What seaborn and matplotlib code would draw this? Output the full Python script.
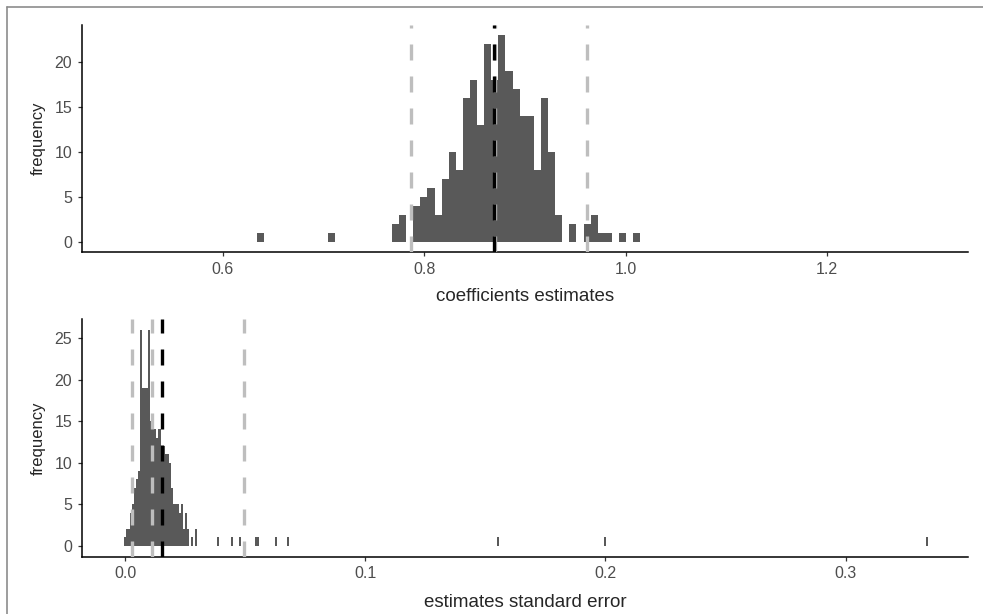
import numpy as np
import pandas as pd
import matplotlib
matplotlib.use("Agg")
import matplotlib.pyplot as plt
import seaborn as sns
from matplotlib.lines import Line2D

# coefficient estimates histogram (bin start, width, counts per bin)
coef_bin_start = 0.6339
coef_binwidth = 0.00705
coef_counts = [1, 0, 0, 0, 0, 0, 0, 0, 0, 0,
               1, 0, 0, 0, 0, 0, 0, 0, 0,
               2, 3, 0, 4, 5, 6, 3, 7, 10, 8, 16, 18, 13, 22, 18, 23, 19, 17,
               14, 14, 8, 16, 10, 3, 0, 2, 0, 2, 3, 1, 1, 0, 1, 0, 1]
coef_gray_lines = [0.787, 0.8705, 0.962]
coef_black_line = 0.8688

# standard error histogram: dense part + isolated values
se_bin_start = -0.0004
se_binwidth = 0.00084
se_dense_counts = [1, 2, 2, 4, 5, 7, 8, 9, 26, 19, 19, 19, 26, 15, 15, 14, 13,
                   14, 12, 12, 11, 11, 10, 7, 5, 5, 5, 4, 5, 2, 4, 2, 0, 1, 0, 2]
se_outliers = [0.0390, 0.0449, 0.0477, 0.0547, 0.0556, 0.0630, 0.0680,
               0.1555, 0.1998, 0.3342]
se_gray_lines = [0.0027, 0.0112, 0.0495]
se_black_line = 0.0154

coef_ticks = [0.6, 0.8, 1.0, 1.2]
coef_ticklabels = ["0.6", "0.8", "1.0", "1.2"]
se_ticks = [0.0, 0.1, 0.2, 0.3]
se_ticklabels = ["0.0", "0.1", "0.2", "0.3"]

sns.set_style("ticks")
plt.rcParams["font.family"] = ["Liberation Sans", "DejaVu Sans"]

BAR = "#595959"
GRAY = "#BEBEBE"

fig = plt.figure(figsize=(9.83, 6.14), dpi=100)
ax1 = fig.add_axes([0.0834, 0.5896, 0.9013, 0.3697])
ax2 = fig.add_axes([0.0834, 0.0936, 0.9013, 0.3869])

# top panel
n = len(coef_counts)
coef_df = pd.DataFrame({
    "x": coef_bin_start + coef_binwidth * (np.arange(n) + 0.5),
    "w": coef_counts,
})
sns.histplot(data=coef_df, x="x", weights="w", binwidth=coef_binwidth,
             binrange=(coef_bin_start, coef_bin_start + n * coef_binwidth),
             color=BAR, alpha=1, linewidth=0, edgecolor="none", ax=ax1)

# bottom panel
m = len(se_dense_counts)
se_x = list(se_bin_start + se_binwidth * (np.arange(m) + 0.5)) + se_outliers
se_w = list(se_dense_counts) + [1] * len(se_outliers)
se_df = pd.DataFrame({"x": se_x, "w": se_w})
sns.histplot(data=se_df, x="x", weights="w", binwidth=se_binwidth,
             binrange=(se_bin_start, 0.3352),
             color=BAR, alpha=1, linewidth=0, edgecolor="none", ax=ax2)

dash = (0, (4.8, 4.8))
for ax, grays, black in [(ax1, coef_gray_lines, coef_black_line),
                         (ax2, se_gray_lines, se_black_line)]:
    for g in grays:
        ax.axvline(g, color=GRAY, lw=2.4, linestyle=dash, zorder=3)
    ax.axvline(black, color="black", lw=2.4, linestyle=dash, zorder=4)

ax1.set_xlim(0.46, 1.34)
ax1.set_ylim(-1.15, 24.15)
ax1.set_xticks(coef_ticks)
ax1.set_xticklabels(coef_ticklabels)
ax1.set_yticks([0, 5, 10, 15, 20])
ax1.set_xlabel("coefficients estimates", fontsize=13.5, labelpad=8)

ax2.set_xlim(-0.018, 0.351)
ax2.set_ylim(-1.3, 27.3)
ax2.set_xticks(se_ticks)
ax2.set_xticklabels(se_ticklabels)
ax2.set_yticks([0, 5, 10, 15, 20, 25])
ax2.set_xlabel("estimates standard error", fontsize=13.5, labelpad=9)

for ax in (ax1, ax2):
    sns.despine(ax=ax)
    ax.set_ylabel("frequency", fontsize=12, labelpad=6)
    for s in ("left", "bottom"):
        ax.spines[s].set_linewidth(1.1)
        ax.spines[s].set_color("black")
    ax.tick_params(axis="both", length=3, width=0.9, color="#333333",
                   labelcolor="#4D4D4D", labelsize=11.5, pad=4)
    ax.grid(False)

# screenshot border
fig.add_artist(Line2D([0.0076, 0.0076], [0, 0.9878], color="#8c8c8c", lw=1.2))
fig.add_artist(Line2D([0.0076, 1], [0.9878, 0.9878], color="#8c8c8c", lw=1.2))

fig.savefig("out.png", dpi=100, facecolor="white")
